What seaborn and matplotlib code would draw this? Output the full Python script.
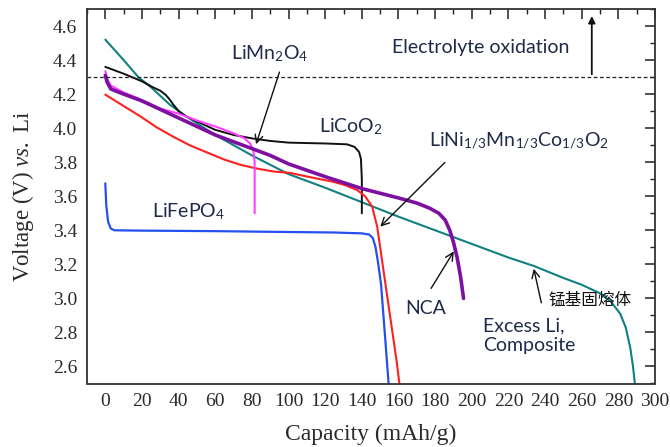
import numpy as np
import pandas as pd
import matplotlib
matplotlib.use("Agg")
import matplotlib.pyplot as plt
import seaborn as sns
from matplotlib.ticker import MultipleLocator, FormatStrFormatter

# ---------------- data ----------------
teal_x = [0, 10, 18, 25, 35, 44, 60, 80, 100, 120, 140, 160, 180, 200, 220, 234, 250, 260, 270, 276, 281, 284, 286.5, 288, 289]
teal_y = [4.52, 4.40, 4.30, 4.24, 4.14, 4.07, 3.96, 3.84, 3.73, 3.65, 3.565, 3.48, 3.40, 3.32, 3.24, 3.19, 3.12, 3.08, 3.03, 2.98, 2.91, 2.83, 2.71, 2.60, 2.50]

licoo2_x = [0, 10, 20, 26, 30, 33, 35, 37, 40, 44, 50, 60, 70, 80, 90, 100, 120, 132, 136, 138.5, 139.5, 140, 140]
licoo2_y = [4.36, 4.32, 4.275, 4.24, 4.22, 4.195, 4.17, 4.14, 4.10, 4.07, 4.04, 3.99, 3.96, 3.94, 3.925, 3.915, 3.91, 3.905, 3.89, 3.86, 3.82, 3.70, 3.50]

limn_x = [0, 1, 3, 10, 20, 30, 40, 50, 60, 70, 76, 79, 80.8, 81.5, 81.5]
limn_y = [4.335, 4.29, 4.25, 4.21, 4.165, 4.115, 4.085, 4.045, 4.01, 3.97, 3.94, 3.91, 3.87, 3.80, 3.50]

nmc_x = [0, 1, 3, 10, 20, 30, 40, 50, 60, 70, 80, 90, 100, 120, 140, 160, 170, 177, 182, 185.5, 188, 190, 192, 194, 195.5]
nmc_y = [4.31, 4.27, 4.23, 4.20, 4.16, 4.11, 4.06, 4.01, 3.96, 3.92, 3.88, 3.84, 3.79, 3.715, 3.645, 3.59, 3.56, 3.53, 3.50, 3.46, 3.40, 3.33, 3.24, 3.12, 3.00]

nca_x = [0, 10, 19, 28, 37, 46, 56, 65, 74, 83, 92, 101, 106, 115, 124, 131, 137.5, 141.8, 145.6, 148.4, 151.6, 155.5, 159, 160.5]
nca_y = [4.197, 4.13, 4.07, 4.005, 3.95, 3.90, 3.855, 3.815, 3.784, 3.762, 3.745, 3.737, 3.725, 3.705, 3.686, 3.665, 3.636, 3.60, 3.54, 3.42, 3.18, 2.89, 2.63, 2.50]

lfp_x = [0, 0.5, 1.5, 3, 5, 20, 60, 100, 125, 140, 144, 146, 147.5, 149, 150.5, 152.5, 154.6]
lfp_y = [3.676, 3.55, 3.45, 3.41, 3.40, 3.398, 3.395, 3.39, 3.387, 3.382, 3.375, 3.355, 3.30, 3.20, 3.08, 2.80, 2.50]

x_ticks = list(range(0, 301, 20))
y_ticks = [2.6, 2.8, 3.0, 3.2, 3.4, 3.6, 3.8, 4.0, 4.2, 4.4, 4.6]
oxidation_limit = 4.3

# ---------------- style ----------------
sns.set_theme(style="white")
plt.rcParams["font.family"] = ["Liberation Serif", "DejaVu Serif"]
plt.rcParams["mathtext.fontset"] = "custom"
plt.rcParams["mathtext.rm"] = "Lato"
plt.rcParams["mathtext.it"] = "Liberation Serif:italic"

fig = plt.figure(figsize=(6.7, 4.47), dpi=100)
ax = fig.add_axes([87 / 670, 1 - 383.5 / 447, (655 - 87) / 670, (383.5 - 9) / 447])

series = [
    (teal_x, teal_y, "#108080", 1.5),
    (licoo2_x, licoo2_y, "#111111", 1.4),
    (nca_x, nca_y, "#ff2020", 1.5),
    (lfp_x, lfp_y, "#2450f0", 1.6),
    (limn_x, limn_y, "#ff40ff", 1.5),
    (nmc_x, nmc_y, "#7d10a0", 2.6),
]
for xs, ys, col, lw in series:
    df = pd.DataFrame({"cap": xs, "v": ys})
    sns.lineplot(data=df, x="cap", y="v", sort=False, estimator=None,
                 color=col, linewidth=lw, ax=ax)

ax.axhline(oxidation_limit, color="#222222", linestyle=(0, (3, 2)), linewidth=0.9)

ax.set_xlim(-10, 300)
ax.set_ylim(2.5, 4.7)
ax.set_xticks(x_ticks)
ax.set_yticks(y_ticks)
ax.xaxis.set_minor_locator(MultipleLocator(10))
ax.yaxis.set_minor_locator(MultipleLocator(0.1))
ax.yaxis.set_major_formatter(FormatStrFormatter("%.1f"))
ax.tick_params(which="both", direction="in", top=True, right=True, colors="#222222",
               labelsize=14, labelcolor="#2a2a2a")
ax.tick_params(which="major", length=7, width=1.1, pad=7)
ax.tick_params(which="minor", length=3.5, width=1.0)
for s in ax.spines.values():
    s.set_color("#333333")
    s.set_linewidth(1.3)

ax.set_xlabel("Capacity (mAh/g)", fontsize=17, color="#2a2a2a", labelpad=10)
ax.set_ylabel(r"Voltage (V) $\it{vs.}$ Li", fontsize=16.5, color="#2a2a2a", labelpad=12)

# ---------------- annotations ----------------
tcol = "#1e2a48"
sans = ["Lato", "DejaVu Sans"]
fs = 14

ax.text(156.6, 4.474, "Electrolyte oxidation", fontsize=fs, color=tcol, family=sans,
        ha="left", va="center")
ax.annotate("", xy=(265.5, 4.675), xytext=(265.5, 4.30),
            arrowprops=dict(arrowstyle="-|>", color="#111111", lw=1.3, mutation_scale=10))

ax.text(90, 4.44, r"LiMn$_\mathrm{2}$O$_\mathrm{4}$", fontsize=fs, color=tcol, family=sans,
        ha="center", va="center")
ax.annotate("", xy=(81.8, 3.89), xytext=(95.5, 4.345),
            arrowprops=dict(arrowstyle="->", color="#111111", lw=1.0, mutation_scale=14))

ax.text(134, 4.01, r"LiCoO$_\mathrm{2}$", fontsize=fs, color=tcol, family=sans,
        ha="center", va="center")

ax.text(226, 3.93, r"LiNi$_\mathrm{1/3}$Mn$_\mathrm{1/3}$Co$_\mathrm{1/3}$O$_\mathrm{2}$",
        fontsize=fs, color=tcol, family=sans, ha="center", va="center")
ax.annotate("", xy=(149, 3.41), xytext=(186.4, 3.81),
            arrowprops=dict(arrowstyle="->", color="#111111", lw=1.0, mutation_scale=14))

ax.text(174.6, 2.94, "NCA", fontsize=fs, color=tcol, family=sans, ha="center", va="center")
ax.annotate("", xy=(191, 3.29), xytext=(177, 3.045),
            arrowprops=dict(arrowstyle="->", color="#111111", lw=1.0, mutation_scale=14))

ax.text(264.6, 2.99, "锰基固熔体", fontsize=12, color="#111111",
        family=["Noto Sans CJK SC", "DejaVu Sans"], ha="center", va="center")
ax.annotate("", xy=(233.5, 3.19), xytext=(238.3, 2.958),
            arrowprops=dict(arrowstyle="->", color="#111111", lw=1.0, mutation_scale=14))

ax.text(206, 2.78, "Excess Li,\nComposite", fontsize=fs, color=tcol, family=sans,
        ha="left", va="center", linespacing=1.15)

ax.text(25.6, 3.507, r"LiFePO$_\mathrm{4}$", fontsize=fs, color=tcol, family=sans,
        ha="left", va="center")

fig.savefig("out.png", dpi=100)
